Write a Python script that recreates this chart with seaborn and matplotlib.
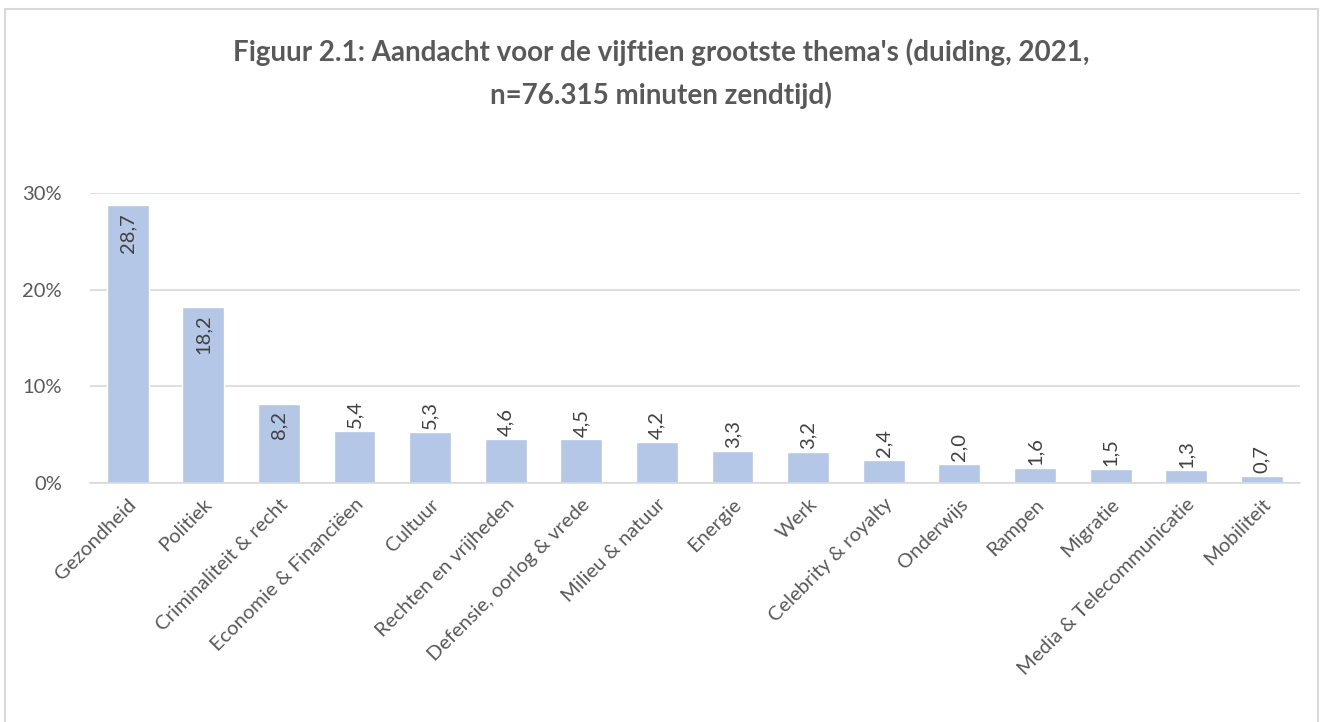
import matplotlib
matplotlib.use("Agg")
import matplotlib.pyplot as plt
import matplotlib.ticker as mtick
import seaborn as sns
import pandas as pd

# data (percent of airtime)
themes = ["Gezondheid", "Politiek", "Criminaliteit & recht", "Economie & Financiëen",
          "Cultuur", "Rechten en vrijheden", "Defensie, oorlog & vrede", "Milieu & natuur",
          "Energie", "Werk", "Celebrity & royalty", "Onderwijs", "Rampen", "Migratie",
          "Media & Telecommunicatie", "Mobiliteit"]
shares = [28.7, 18.2, 8.2, 5.4, 5.3, 4.6, 4.5, 4.2, 3.3, 3.2, 2.4, 2.0, 1.6, 1.5, 1.3, 0.7]
yticks = [0, 10, 20, 30]

df = pd.DataFrame({"thema": themes, "aandeel": shares})

sns.set_style("white")
plt.rcParams["font.family"] = ["Lato", "DejaVu Sans"]
grey = "#595959"

fig = plt.figure(figsize=(13.22, 7.22), dpi=100)
ax = fig.add_axes([0.068, 0.331, 0.915, 0.402])

sns.barplot(data=df, x="thema", y="aandeel", color="#B4C7E7", width=0.555,
            saturation=1, ax=ax, zorder=2)

ax.set_ylim(0, 30)
ax.set_xlim(-0.5, len(themes) - 0.5)
ax.set_yticks(yticks)
ax.yaxis.set_major_formatter(mtick.FuncFormatter(lambda v, p: f"{v:.0f}%"))
ax.grid(axis="y", color="#D9D9D9", linewidth=1.2, zorder=0)
for s in ["top", "right", "left"]:
    ax.spines[s].set_visible(False)
ax.spines["bottom"].set_color("#D9D9D9")
ax.spines["bottom"].set_linewidth(1.2)
ax.tick_params(length=0, labelsize=14.5, colors=grey)
ax.tick_params(axis="y", pad=20)
ax.tick_params(axis="x", pad=9)
ax.set_xlabel("")
ax.set_ylabel("")
plt.setp(ax.get_xticklabels(), rotation=45, ha="right", rotation_mode="anchor")

# value labels: inside top for tall bars, above for short ones
for i, v in enumerate(shares):
    txt = f"{v:.1f}".replace(".", ",")
    if v > 7:
        ax.text(i, v - 0.8, txt, rotation=90, ha="center", va="top",
                fontsize=14.5, color="#404040", zorder=3)
    else:
        ax.text(i, v + 0.3, txt, rotation=90, ha="center", va="bottom",
                fontsize=14.5, color="#404040", zorder=3)

fig.text(0.5, 0.898, "Figuur 2.1: Aandacht voor de vijftien grootste thema's (duiding, 2021,\n"
         "n=76.315 minuten zendtijd)", ha="center", va="center", fontsize=20,
         fontweight="bold", color=grey, linespacing=1.65)

border = plt.Rectangle((0.004, -0.02), 0.993, 1.008, transform=fig.transFigure,
                       fill=False, edgecolor="#D9D9D9", linewidth=1.5, clip_on=False)
fig.patches.append(border)

fig.savefig("out.png", dpi=100, facecolor="white")
